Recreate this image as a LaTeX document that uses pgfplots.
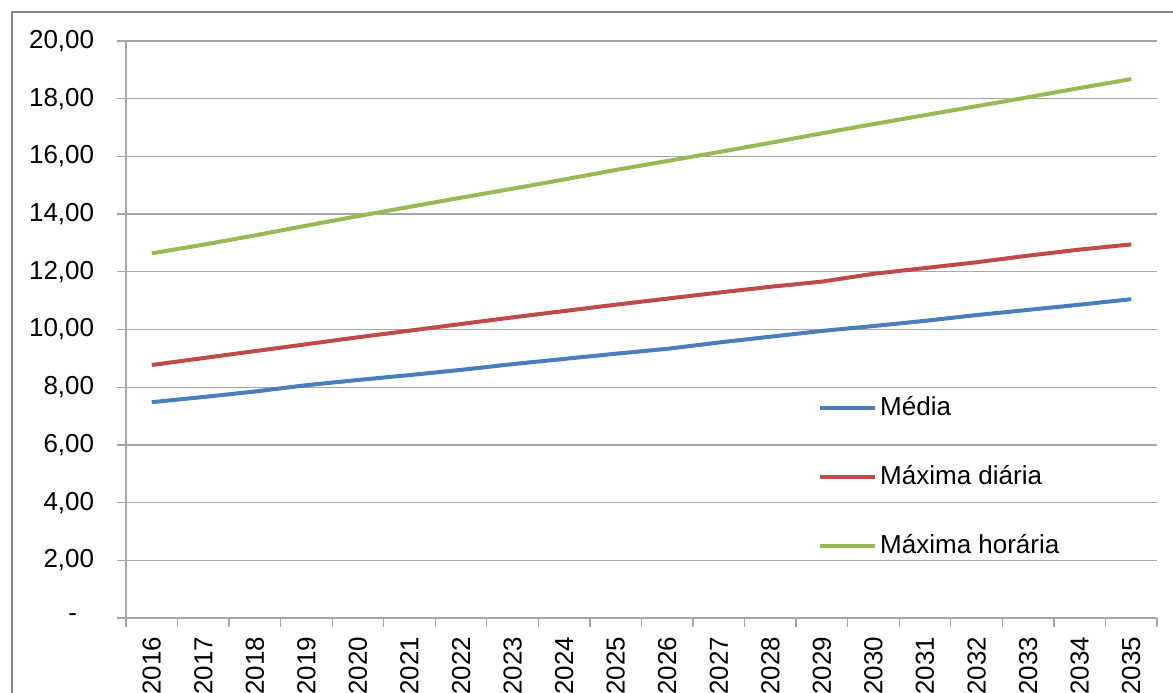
\documentclass[border=0pt]{standalone}
\usepackage{pgfplots}
\usepackage{pgfplotstable}
\pgfplotsset{compat=1.18}
\usepackage{fontspec}
\setmainfont{Liberation Sans}
\definecolor{cblue}{HTML}{4A7EBB}
\definecolor{cred}{HTML}{BE4B48}
\definecolor{cgreen}{HTML}{98B954}
\definecolor{cgrid}{HTML}{A6A6A6}
\definecolor{cframe}{HTML}{878787}
\pgfplotstableread{
x blue red green
0 7.48 8.77 12.64
1 7.66 9.01 12.94
2 7.85 9.25 13.26
3 8.07 9.49 13.60
4 8.25 9.73 13.93
5 8.42 9.96 14.25
6 8.60 10.19 14.57
7 8.80 10.42 14.88
8 8.98 10.64 15.20
9 9.16 10.86 15.53
10 9.33 11.07 15.84
11 9.55 11.28 16.15
12 9.75 11.48 16.47
13 9.95 11.66 16.80
14 10.12 11.93 17.12
15 10.30 12.13 17.43
16 10.50 12.33 17.74
17 10.68 12.56 18.05
18 10.86 12.77 18.37
19 11.05 12.95 18.68
}\datatable
\begin{document}
\fontsize{26bp}{31bp}\selectfont
\begin{tikzpicture}
\useasboundingbox (0,0) rectangle (1173bp,693bp);
\draw[cframe, line width=2bp] (12bp,-100bp) rectangle (1300bp,681bp);
\begin{axis}[
  at={(126bp,75bp)}, anchor=south west,
  scale only axis, width=1031bp, height=577bp,
  xmin=-0.5, xmax=19.5, ymin=0, ymax=20,
  axis lines*=left,
  axis line style={cgrid, line width=1.5bp},
  tick style={cgrid, line width=1.3bp},
  tick align=outside,
  major tick length=9bp,
  ymajorgrids, grid style={cgrid, line width=1.3bp},
  ytick={0,2,...,20},
  yticklabels={{-\hspace*{17bp}},{2,00},{4,00},{6,00},{8,00},{10,00},{12,00},{14,00},{16,00},{18,00},{20,00}},
  yticklabel style={font=\fontsize{26bp}{31bp}\selectfont, anchor=east, xshift=-14bp},
  xtick={-0.5,0.5,...,19.5}, xticklabels={},
  extra x ticks={0,1,...,19},
  extra x tick labels={2016,2017,2018,2019,2020,2021,2022,2023,2024,2025,2026,2027,2028,2029,2030,2031,2032,2033,2034,2035},
  extra x tick style={major tick length=0pt, xticklabel style={font=\fontsize{26bp}{31bp}\selectfont, yshift=-10bp, rotate=90, anchor=east}},
  legend style={draw=none, fill=none, inner sep=0pt, at={(0.6712,0.3865)}, anchor=north west,
    font=\fontsize{26bp}{31bp}\selectfont, row sep=43bp,
    nodes={inner sep=0pt, text height=20bp, text depth=6bp}, /tikz/column sep=3bp},
  legend cell align=left,
  legend image code/.code={\draw[#1] (0bp,0bp) -- (55bp,0bp);},
]
\addplot[cblue, line width=4bp] table[x=x, y=blue] {\datatable};
\addlegendentry{Média}
\addplot[cred, line width=4bp] table[x=x, y=red] {\datatable};
\addlegendentry{Máxima diária}
\addplot[cgreen, line width=4bp] table[x=x, y=green] {\datatable};
\addlegendentry{Máxima horária}
\end{axis}
\end{tikzpicture}
\end{document}
